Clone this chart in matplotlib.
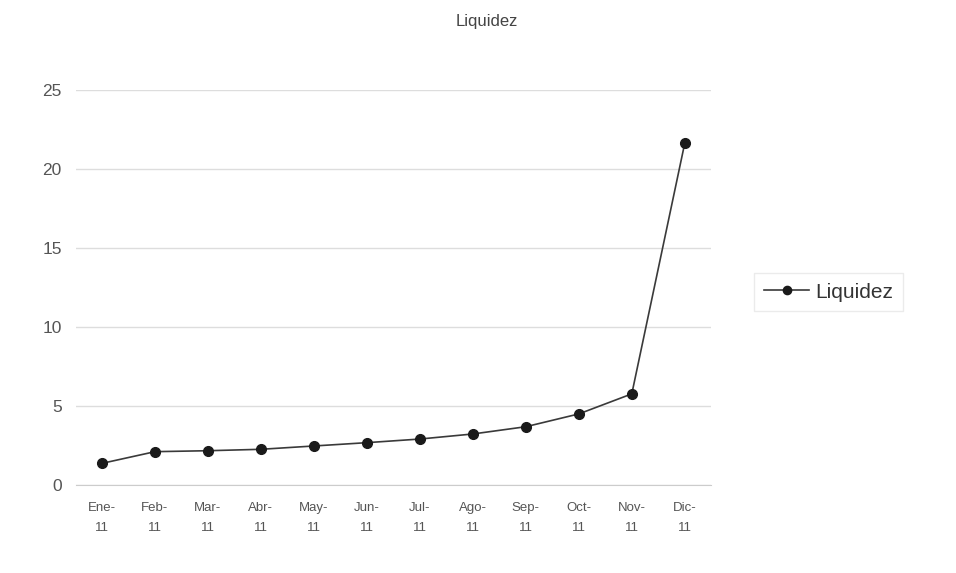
import matplotlib
matplotlib.use("Agg")
import matplotlib.pyplot as plt

plt.rcParams['font.family'] = ['Liberation Sans', 'DejaVu Sans']

months = ["Ene-\n11", "Feb-\n11", "Mar-\n11", "Abr-\n11", "May-\n11", "Jun-\n11",
          "Jul-\n11", "Ago-\n11", "Sep-\n11", "Oct-\n11", "Nov-\n11", "Dic-\n11"]
liquidez = [1.37, 2.11, 2.17, 2.26, 2.47, 2.68, 2.91, 3.23, 3.69, 4.50, 5.77, 21.65]
yticks = [0, 5, 10, 15, 20, 25]

fig = plt.figure(figsize=(9.56, 5.73), dpi=100)
ax = fig.add_axes([0.079, 0.1536, 0.665, 0.689])

x = list(range(len(months)))
ax.plot(x, liquidez, color="#3a3a3a", linewidth=1.2, marker="o",
        markersize=7, markerfacecolor="#1a1a1a", markeredgecolor="#1a1a1a",
        label="Liquidez", zorder=3)

ax.set_xlim(-0.5, len(months) - 0.5)
ax.set_ylim(0, 25)
ax.set_yticks(yticks)
ax.set_xticks(x)
ax.set_xticklabels(months, fontsize=9.5, color="#555555", linespacing=1.95)
ax.tick_params(axis="y", labelsize=12.5, labelcolor="#555555", length=0, pad=10)
ax.tick_params(axis="x", length=0, pad=12)

ax.grid(axis="y", color="#dddddd", linewidth=1.0)
ax.set_axisbelow(True)
for side in ["left", "right", "top"]:
    ax.spines[side].set_visible(False)
ax.spines["bottom"].set_color("#cccccc")

fig.text(0.509, 0.962, "Liquidez", ha="center", va="center",
         fontsize=12, color="#444444")

leg = fig.legend(loc="center left", bbox_to_anchor=(0.789, 0.49),
                 fontsize=15, frameon=True, handlelength=2.2,
                 handletextpad=0.3, borderpad=0.45, borderaxespad=0,
                 fancybox=False, markerscale=0.85)
leg.get_frame().set_edgecolor("#e6e6e6")
for t in leg.get_texts():
    t.set_color("#333333")

fig.savefig("out.png", dpi=100, facecolor="white")
